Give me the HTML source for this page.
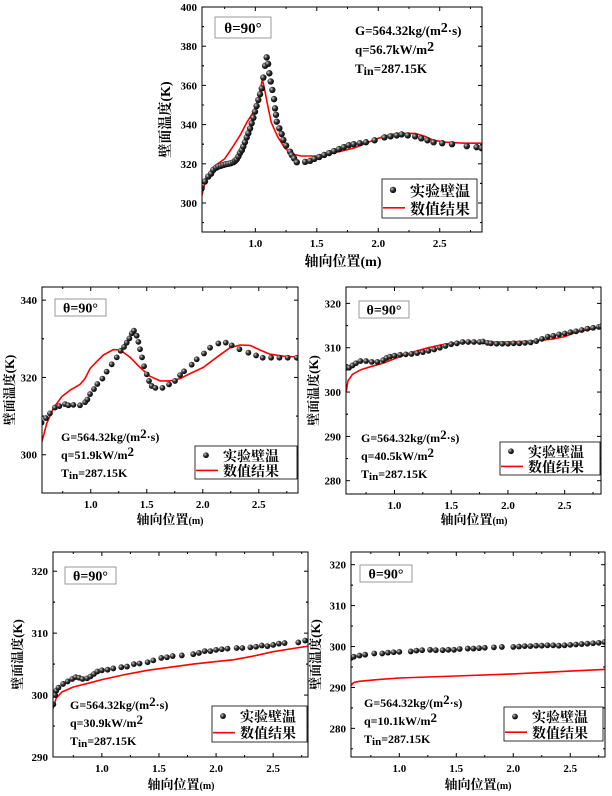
<!DOCTYPE html>
<html><head><meta charset="utf-8">
<style>
html,body{margin:0;padding:0;background:#fff;}
svg{display:block;}
text{font-family:"Liberation Serif","Noto Serif CJK SC",serif;font-weight:bold;fill:#000;}
.cj{font-family:"Liberation Serif","Noto Serif CJK SC","Noto Sans CJK SC",serif;}
</style></head>
<body>
<svg id="fig" width="612" height="796" viewBox="0 0 612 796" xmlns="http://www.w3.org/2000/svg">
<defs>
<radialGradient id="ball" cx="0.35" cy="0.35" r="0.7">
<stop offset="0" stop-color="#d0d0d0"/><stop offset="0.45" stop-color="#333"/><stop offset="1" stop-color="#000"/>
</radialGradient>
</defs>
</svg>
<script>
// ---- chart A (q=56.7) ----
const expA_x=[0.563,0.59,0.617,0.64,0.658,0.68,0.699,0.72,0.74,0.76,0.78,0.8,0.821,0.835,0.848,0.862,0.875,0.89,0.902,0.915,0.93,0.943,0.957,0.97,0.984,0.997,1.01,1.024,1.038,1.052,1.065,1.079,1.092,1.104,1.114,1.125,1.138,1.152,1.16,1.168,1.174,1.195,1.214,1.228,1.25,1.282,1.296,1.315,1.337,1.405,1.445,1.48,1.52,1.56,1.6,1.64,1.68,1.72,1.76,1.8,1.85,1.9,1.97,2.05,2.1,2.15,2.19,2.24,2.3,2.35,2.4,2.45,2.52,2.6,2.72,2.8,2.84];
const expA_y=[307.5,311,313.5,315,316.9,318,318.6,319,319.4,319.8,320,320.3,320.8,321.5,322.3,323.7,325.5,327,328.8,331,333.5,335.6,338,340.7,343.5,346.6,349.5,352.6,355.5,358.5,364,370,374.3,371,366.2,362,357.7,353,348.3,345,341.5,338.1,335.2,332.2,329.3,326.2,324.5,322.8,320.8,321,321.5,322.5,323.5,324.5,325.5,326.5,327.5,328.5,329.5,330,330.5,331,332,333.5,334,334.5,335,334.5,334,333,332,331,330.5,330,329,328.5,328];
const numA_x=[0.565,0.6,0.66,0.75,0.82,0.88,0.93,0.98,1.02,1.057,1.075,1.1,1.13,1.18,1.24,1.3,1.37,1.5,1.6,1.7,1.8,1.9,2.0,2.1,2.2,2.3,2.38,2.45,2.55,2.7,2.845];
const numA_y=[304,313,318.5,322.5,329,335,341,346,352,363,358,350,341,334,328,325,324,324,325,326.5,328,330.5,333,335,335.5,335.5,334,332,331,330.5,330.5];
// ---- chart B (q=51.9) ----
const expB_x=[0.561,0.6,0.636,0.68,0.72,0.77,0.80,0.845,0.904,0.95,0.97,0.994,1.029,1.059,1.104,1.142,1.187,1.232,1.267,1.297,1.321,1.345,1.366,1.386,1.41,1.425,1.44,1.458,1.476,1.5,1.52,1.544,1.577,1.64,1.699,1.752,1.797,1.833,1.901,1.946,2.011,2.065,2.139,2.205,2.258,2.327,2.407,2.476,2.535,2.61,2.684,2.758,2.839];
const expB_y=[308.3,309.5,310.7,312.2,312.6,313.1,312.8,312.9,312.8,313.6,314.3,315.7,317,318.3,319.7,321.5,323.4,325.2,326.9,327.9,329,330.1,331.4,332.1,330.8,329.2,327.3,325.2,322.9,320.8,319.1,317.8,317.3,317.3,318.2,319.1,320.6,321.6,323.3,324.7,326.2,327.7,328.8,329,328.3,327.3,326.4,325.7,325.1,325.1,325.1,325.1,325.1];
const numB_x=[0.565,0.577,0.607,0.666,0.74,0.815,0.904,0.949,0.994,1.053,1.113,1.202,1.261,1.351,1.44,1.529,1.618,1.708,1.797,1.886,2.005,2.124,2.243,2.333,2.422,2.511,2.6,2.72,2.847];
const numB_y=[303.5,304.7,308.1,312,315,316.7,318.2,319.7,322.3,324.1,325.8,327.2,327.1,325.2,322.6,320.3,319.1,319.1,319.7,321,322.6,325.2,327.7,328.4,328.3,327.1,326,325.5,325.3];
// ---- chart C (q=40.5) ----
const expC_x=[0.575,0.6,0.63,0.66,0.7,0.75,0.8,0.85,0.9,0.93,0.96,1.0,1.05,1.1,1.15,1.2,1.25,1.3,1.35,1.4,1.45,1.5,1.55,1.6,1.65,1.7,1.75,1.78,1.82,1.85,1.9,1.95,2.0,2.05,2.1,2.15,2.2,2.25,2.3,2.35,2.4,2.45,2.5,2.55,2.6,2.65,2.7,2.75,2.8,2.82];
const expC_y=[305.7,305.5,306,306.5,307,307,306.8,306.8,307.2,307.7,308,308.2,308.4,308.5,308.6,308.8,309,309.3,309.6,310,310.4,310.8,311,311.3,311.3,311.3,311.3,311.4,311.1,311,310.9,310.9,310.9,311,311,311.1,311.2,311.5,312,312.5,312.7,313,313.2,313.5,313.7,314,314.3,314.5,314.7,314.8];
const numC_x=[0.575,0.59,0.63,0.7,0.8,0.9,1.0,1.1,1.2,1.3,1.4,1.5,1.6,1.8,2.0,2.1,2.2,2.3,2.4,2.5,2.6,2.7,2.82];
const numC_y=[300,302.5,304,305,305.8,306.5,307.5,308.5,309.3,310,310.6,311,311.2,311.3,311.3,311.4,311.5,311.7,312,312.5,313.5,314,314.8];
// ---- chart D (q=30.9) ----
const expD_x=[0.575,0.59,0.6,0.62,0.66,0.7,0.74,0.77,0.8,0.83,0.87,0.9,0.93,0.96,1.0,1.05,1.1,1.17,1.22,1.28,1.33,1.4,1.45,1.52,1.57,1.62,1.7,1.8,1.85,1.9,1.95,2.0,2.05,2.1,2.18,2.23,2.3,2.35,2.4,2.45,2.5,2.55,2.6,2.72,2.78,2.83];
const expD_y=[298.5,300,300.7,301.2,301.8,302.2,302.6,302.9,302.8,302.6,302.7,303,303.4,303.8,304,304.1,304.3,304.5,304.6,305,305.1,305.3,305.6,306,306.1,306.3,306.4,306.6,306.8,307.1,307.1,307.3,307.4,307.5,307.6,307.6,307.7,307.8,308,307.9,308.1,308.3,308.4,308.5,308.8,308.7];
const numD_x=[0.572,0.6,0.65,0.75,0.9,1.0,1.2,1.4,1.6,1.8,2.0,2.15,2.3,2.5,2.7,2.81];
const numD_y=[297.8,299.5,300.5,301.3,302,302.5,303.3,304,304.5,305,305.4,305.7,306.2,307,307.6,307.9];
// ---- chart E (q=10.1) ----
const expE_x=[0.575,0.6,0.65,0.7,0.78,0.85,0.9,0.95,1.0,1.1,1.15,1.2,1.27,1.32,1.38,1.43,1.48,1.53,1.6,1.65,1.7,1.75,1.83,1.9,2.0,2.05,2.1,2.15,2.2,2.25,2.3,2.35,2.4,2.45,2.5,2.55,2.6,2.65,2.7,2.75,2.8];
const expE_y=[297.2,297.5,297.8,298,298.3,298.3,298.5,298.6,298.7,298.8,299,299.1,299.2,299.1,299.1,299.2,299.2,299.4,299.5,299.5,299.6,299.7,299.8,299.9,299.9,300,300.1,300.1,300.2,300.2,300.3,300.3,300.2,300.3,300.4,300.5,300.6,300.7,300.8,300.9,301.1];
const numE_x=[0.575,0.6,0.65,0.8,1.0,1.5,2.0,2.5,2.8];
const numE_y=[290.5,291.2,291.5,291.9,292.3,292.8,293.3,294,294.4];
const xTicks=[1.0,1.5,2.0,2.5];
const xTickLabels=["1.0","1.5","2.0","2.5"];
const yTicksA=[300,320,340,360,380,400];
const yTicksB=[300,320,340];
const yTicksC=[280,290,300,310,320];
const yTicksD=[290,300,310,320];
const yTicksE=[280,290,300,310,320];

const NS="http://www.w3.org/2000/svg";
const svg=document.getElementById('fig');
function mk(tag,attrs,parent){const e=document.createElementNS(NS,tag);for(const k in attrs)e.setAttribute(k,attrs[k]);(parent||svg).appendChild(e);return e;}

function chart(c){
  const g=mk('g',{});
  
  
  const sx=v=>c.L+(v-c.x0)/(c.x1-c.x0)*(c.R-c.L);
  const sy=v=>c.B-(v-c.y0)/(c.y1-c.y0)*(c.B-c.T);
  const clip='clip-'+c.name;
  const cp=mk('clipPath',{id:clip},g);mk('rect',{x:c.L,y:c.T,width:c.R-c.L,height:c.B-c.T},cp);
  xTicks.forEach((v,i)=>{
    const x=sx(v);
    mk('line',{x1:x,y1:c.B,x2:x,y2:c.B-4,stroke:'#000','stroke-width':1},g);
    mk('line',{x1:x,y1:c.T,x2:x,y2:c.T+4,stroke:'#000','stroke-width':1},g);
    const m=sx(v+0.25);
    if(v+0.25<c.x1){mk('line',{x1:m,y1:c.B,x2:m,y2:c.B-2,stroke:'#000'},g);mk('line',{x1:m,y1:c.T,x2:m,y2:c.T+2,stroke:'#000'},g);}
    const t=mk('text',{x:x,y:c.B+15,'text-anchor':'middle','font-size':c.fs},g);
    t.textContent=xTickLabels[i];
    
    
  });
  const m0=sx(0.75);mk('line',{x1:m0,y1:c.B,x2:m0,y2:c.B-2,stroke:'#000'},g);mk('line',{x1:m0,y1:c.T,x2:m0,y2:c.T+2,stroke:'#000'},g);
  c.yt.forEach((v,i)=>{
    const y=sy(v);
    mk('line',{x1:c.L,y1:y,x2:c.L+4,y2:y,stroke:'#000'},g);
    mk('line',{x1:c.R,y1:y,x2:c.R-4,y2:y,stroke:'#000'},g);
    const step=c.yt[1]-c.yt[0];
    [v-step/2,v+step/2].forEach(mv=>{if(mv>c.y0&&mv<c.y1){const yy=sy(mv);mk('line',{x1:c.L,y1:yy,x2:c.L+2,y2:yy,stroke:'#000'},g);mk('line',{x1:c.R,y1:yy,x2:c.R-2,y2:yy,stroke:'#000'},g);}});
    const t=mk('text',{x:c.L-5,y:y+4,'text-anchor':'end','font-size':c.fs},g);
    t.textContent=String(v);
    
    
  });
  const pg=mk('g',{'clip-path':'url(#'+clip+')'},g);
  const d=c.nx.map((v,i)=>(i?'L':'M')+sx(v).toFixed(1)+','+sy(c.ny[i]).toFixed(1)).join(' ');
  const ln=mk('path',{d:d,fill:'none',stroke:'#ff0000','stroke-width':1.6,'stroke-linejoin':'round'},pg);
  
  
  c.ex.forEach((v,i)=>{
    const p=mk('circle',{cx:sx(v),cy:sy(c.ey[i]),r:c.r,fill:'url(#ball)'},pg);
    
    
  });
  const fr=mk('rect',{x:c.L,y:c.T,width:c.R-c.L,height:c.B-c.T,fill:'none',stroke:'#000','stroke-width':1},g);
  
  
  const xt=mk('text',{x:c.xlx,y:c.xly,'text-anchor':'middle','font-size':c.ls,class:'cj'},g);
  xt.innerHTML='轴向位置'+(c.smallM?'<tspan font-size="'+(c.ls-3)+'">(m)</tspan>':'(m)');
  
  
  const yt=mk('text',{x:0,y:0,'text-anchor':'middle','font-size':c.ls,class:'cj',transform:'translate('+c.ylx+','+((c.T+c.B)/2)+') rotate(-90)'},g);
  yt.textContent='壁面温度(K)';
  
  
  const tb=mk('rect',{x:c.th[0],y:c.th[1],width:c.th[2],height:c.th[3],fill:'#fff',stroke:'#999','stroke-width':1},g);
  
  
  const tt=mk('text',{x:c.th[0]+c.th[2]/2,y:c.th[1]+c.th[3]/2+c.ts*0.36,'text-anchor':'middle','font-size':c.ts},g);
  tt.textContent='θ=90°';
  
  
  const an=mk('text',{x:c.an[0],y:c.an[1],'font-size':c.as},g);
  an.innerHTML='<tspan x="'+c.an[0]+'">G=564.32kg/(m<tspan font-size="'+(c.as+1)+'" dy="-3">2</tspan><tspan dy="3">·s)</tspan></tspan>'+
   '<tspan x="'+c.an[0]+'" dy="'+c.an[2]+'">q='+c.q+'kW/m<tspan font-size="'+(c.as+1)+'" dy="-3">2</tspan></tspan>'+
   '<tspan x="'+c.an[0]+'" dy="'+(c.an[2]+3)+'">T<tspan font-size="'+(c.as-1)+'" dy="2">in</tspan><tspan dy="-2">=287.15K</tspan></tspan>';
  
  
  const lg=mk('g',{},g);
  
  
  const [lx,ly,lw,lh]=c.lg;
  mk('rect',{x:lx,y:ly,width:lw,height:lh,fill:'#fff',stroke:'#000','stroke-width':0.8},lg);
  const r1=ly+lh*0.28, r2=ly+lh*0.74;
  const ld=mk('circle',{cx:lx+11,cy:r1,r:c.r,fill:'url(#ball)'},lg);
  
  
  mk('line',{x1:lx+1,y1:r2,x2:lx+23,y2:r2,stroke:'#ff0000','stroke-width':1.6},lg);
  const l1=mk('text',{x:lx+28,y:r1+c.gs*0.4,'font-size':c.gs,class:'cj','font-weight':'normal'},lg);
  l1.textContent='实验壁温';
  
  
  const l2=mk('text',{x:lx+28,y:r2+c.gs*0.4,'font-size':c.gs,class:'cj','font-weight':'normal'},lg);
  l2.textContent='数值结果';
  
  
}

chart({name:'chart-q56',L:202,R:482,T:7,B:232,x0:0.566,x1:2.844,y0:285.2,y1:400,yt:yTicksA,ex:expA_x,ey:expA_y,nx:numA_x,ny:numA_y,r:3.2,fs:11,ls:14,ts:15,
  xlx:343,xly:266,ylx:170,smallM:false,th:[215,17,56,21],an:[355,35,19],as:13,q:'56.7',lg:[382,179,95,39],gs:15});
chart({name:'chart-q51',L:42,R:298,T:287,B:493,x0:0.565,x1:2.85,y0:290.1,y1:343.4,yt:yTicksB,ex:expB_x,ey:expB_y,nx:numB_x,ny:numB_y,r:2.9,fs:11,ls:13,ts:14,
  xlx:170,xly:524,ylx:14,smallM:true,th:[55,299,51,17],an:[61,441,18],as:12,q:'51.9',lg:[195,446,102,33],gs:14});
chart({name:'chart-q40',L:346,R:601,T:287,B:494,x0:0.573,x1:2.82,y0:277,y1:323.7,yt:yTicksC,ex:expC_x,ey:expC_y,nx:numC_x,ny:numC_y,r:2.9,fs:11,ls:13,ts:14,
  xlx:474,xly:524,ylx:318,smallM:true,th:[359,301,50,17],an:[361,442,18],as:12,q:'40.5',lg:[500,442,100,33],gs:14});
chart({name:'chart-q30',L:53,R:308,T:552,B:757,x0:0.572,x1:2.805,y0:290,y1:323.1,yt:yTicksD,ex:expD_x,ey:expD_y,nx:numD_x,ny:numD_y,r:2.9,fs:11,ls:13,ts:14,
  xlx:181,xly:789,ylx:22,smallM:true,th:[65,567,51,17],an:[70,709,18],as:12,q:'30.9',lg:[212,706,95,36],gs:14});
chart({name:'chart-q10',L:351,R:605,T:552,B:757,x0:0.576,x1:2.805,y0:273,y1:323.1,yt:yTicksE,ex:expE_x,ey:expE_y,nx:numE_x,ny:numE_y,r:2.9,fs:11,ls:13,ts:14,
  xlx:478,xly:789,ylx:320,smallM:true,th:[360,565,52,17],an:[364,707,18],as:12,q:'10.1',lg:[504,707,99,34],gs:14});
</script>
</body></html>
